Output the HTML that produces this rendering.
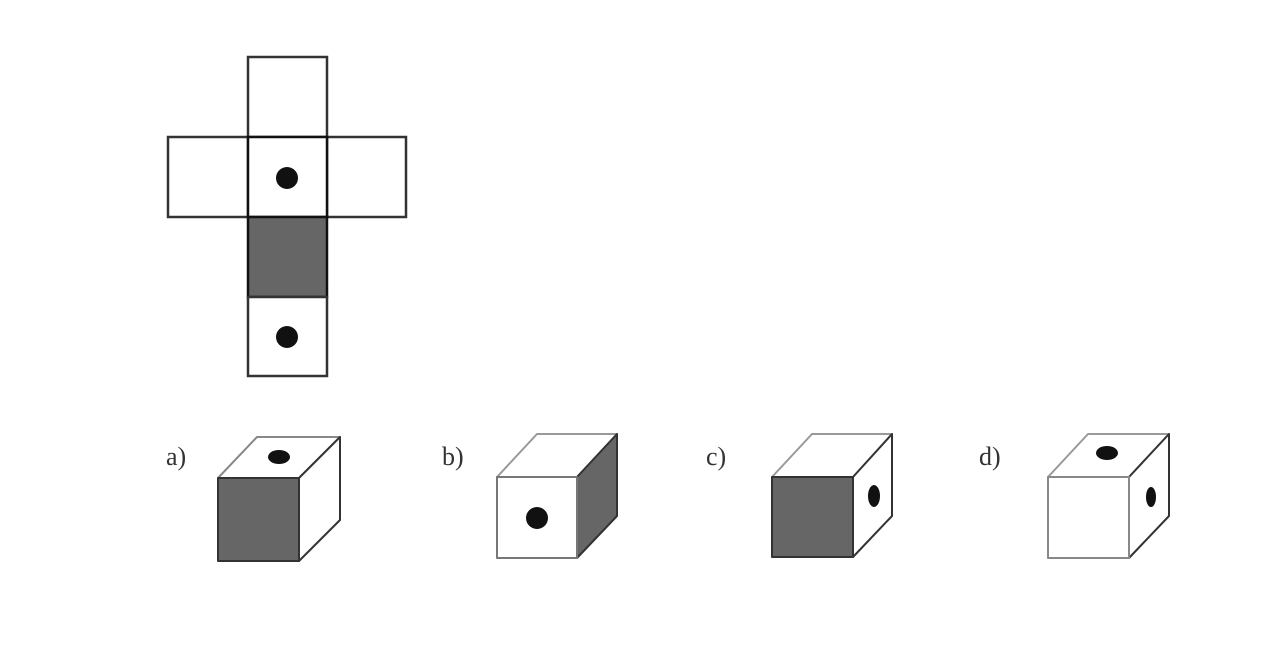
<!DOCTYPE html>
<html><head><style>html,body{margin:0;padding:0;background:#fff;width:1282px;height:652px;overflow:hidden}</style></head>
<body>
<svg width="1282" height="652" xmlns="http://www.w3.org/2000/svg" font-family="Liberation Serif, serif">
<g stroke="#333" stroke-width="2.5" fill="#fff">
<rect x="248" y="57" width="79" height="80"/>
<rect x="168" y="137" width="80" height="80"/>
<rect x="327" y="137" width="79" height="80"/>
<rect x="248" y="137" width="79" height="80" stroke="#111"/>
<rect x="248" y="217" width="79" height="80" fill="#666" stroke="#111"/>
<rect x="248" y="297" width="79" height="79"/>
</g>
<circle cx="287" cy="178" r="11" fill="#111"/>
<circle cx="287" cy="337" r="11" fill="#111"/>

<g font-size="26" fill="#333">
<text x="166" y="465">a)</text>
<text x="442" y="465">b)</text>
<text x="706" y="465">c)</text>
<text x="979" y="465">d)</text>
</g>

<g stroke="#333" stroke-width="2" stroke-linejoin="round">
<!-- a -->
<polygon points="218,478 257,437 340,437 299,478" fill="#fff" stroke="#888"/>
<polygon points="299,478 340,437 340,520 299,561" fill="#fff"/>
<rect x="218" y="478" width="81" height="83" fill="#666"/>
<!-- b -->
<polygon points="497,477 537,434 617,434 577,477" fill="#fff" stroke="#999"/>
<polygon points="577,477 617,434 617,516 577,558" fill="#666"/>
<rect x="497" y="477" width="80" height="81" fill="#fff" stroke="#777"/>
<!-- c -->
<polygon points="772,477 812,434 892,434 853,477" fill="#fff" stroke="#999"/>
<polygon points="853,477 892,434 892,516 853,557" fill="#fff"/>
<rect x="772" y="477" width="81" height="80" fill="#666"/>
<!-- d -->
<polygon points="1048,477 1088,434 1169,434 1129,477" fill="#fff" stroke="#999"/>
<polygon points="1129,477 1169,434 1169,516 1129,558" fill="#fff"/>
<rect x="1048" y="477" width="81" height="81" fill="#fff" stroke="#888"/>
</g>
<g fill="#111">
<ellipse cx="279" cy="457" rx="11" ry="7"/>
<circle cx="537" cy="518" r="11"/>
<ellipse cx="874" cy="496" rx="6" ry="11"/>
<ellipse cx="1107" cy="453" rx="11" ry="7"/>
<ellipse cx="1151" cy="497" rx="5" ry="10"/>
</g>
</svg>
</body></html>
